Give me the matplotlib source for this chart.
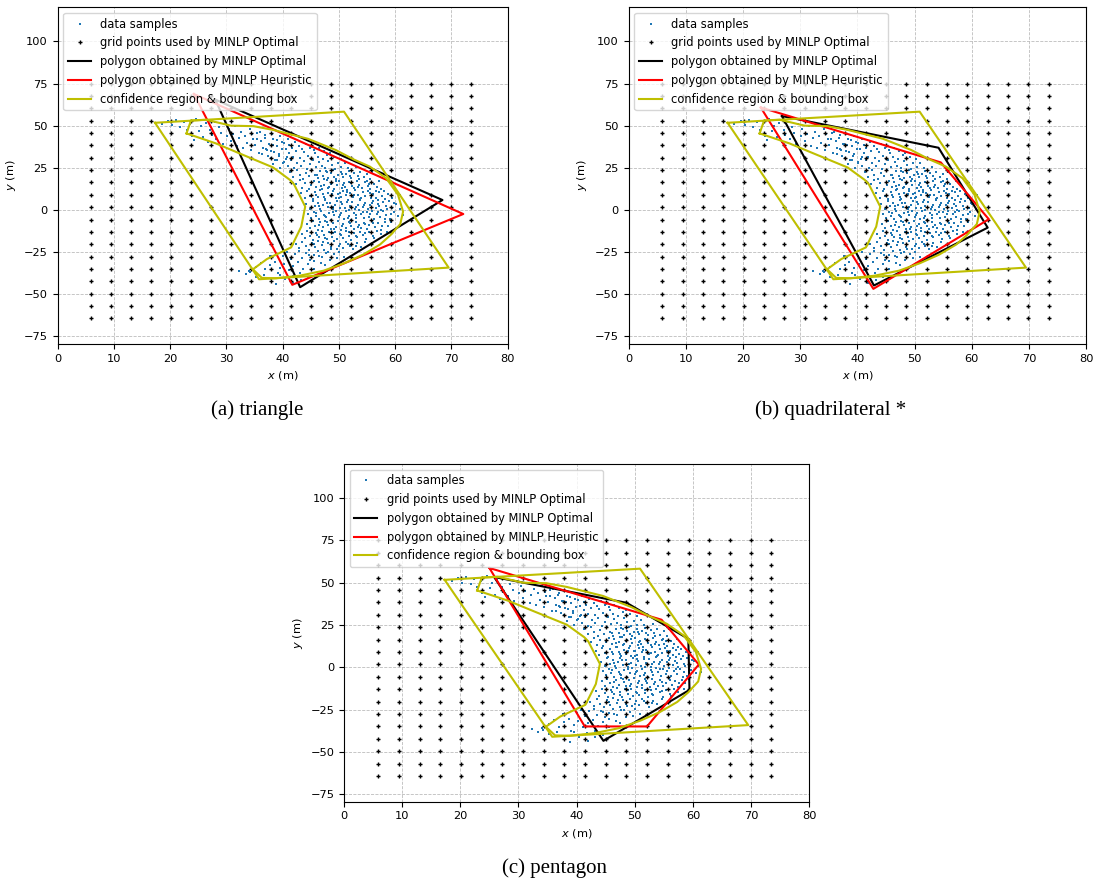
import numpy as np
import matplotlib
matplotlib.use('Agg')
import matplotlib.pyplot as plt
from typing import List, Tuple

# grid used by the MINLP solver (20 x 20)
grid_x = [5.87, 9.43, 12.99, 16.55, 20.11, 23.66, 27.22, 30.78, 34.34, 37.90,
          41.46, 45.01, 48.57, 52.13, 55.69, 59.25, 62.81, 66.36, 69.92, 73.48]
grid_y = [75.0, 67.67, 60.33, 53.0, 45.67, 38.33, 31.0, 23.67, 16.33, 9.0,
          1.67, -5.67, -13.0, -20.33, -27.67, -35.0, -42.33, -49.67, -57.0, -64.33]

# confidence region (crescent) and bounding box
conf_x = [22.9, 23.7, 26.4, 30.8, 34.8, 38.3, 44.5, 49.4, 52.6, 55.5, 58.4, 60.5, 61.4,
          60.9, 59.2, 57.3, 54.3, 51.0, 47.3, 43.0, 38.8, 36.3, 34.7, 37.2, 41.5, 43.3,
          44.0, 42.0, 41.3, 38.3, 33.0, 28.1, 22.9]
conf_y = [45.4, 53.1, 53.5, 50.0, 49.7, 47.5, 42.2, 35.6, 30.0, 25.7, 18.8, 9.0, -1.0,
          -8.4, -14.8, -20.5, -26.5, -31.5, -36.0, -39.0, -40.5, -40.3, -35.2, -29.1, -22.2, -9.9,
          2.0, 15.3, 17.8, 25.2, 32.6, 39.5, 45.4]
bbox_x = [17.3, 50.9, 69.5, 35.8, 17.3]
bbox_y = [51.7, 58.3, -34.2, -41.1, 51.7]

# polygons per case
tri_opt_x = [28.0, 68.4, 43.1]
tri_opt_y = [65.5, 5.9, -45.8]
tri_heu_x = [24.2, 72.1, 41.7]
tri_heu_y = [68.8, -2.4, -44.4]

quad_opt_x = [26.8, 54.2, 62.8, 42.9]
quad_opt_y = [55.7, 36.9, -10.5, -44.8]
quad_heu_x = [23.1, 54.6, 63.0, 42.8]
quad_heu_y = [60.8, 28.2, -5.5, -46.8]

pent_opt_x = [25.8, 48.6, 59.2, 59.4, 44.6]
pent_opt_y = [53.4, 38.1, 16.8, -13.4, -43.5]
pent_heu_x = [25.0, 54.6, 61.0, 52.1, 41.4]
pent_heu_y = [58.7, 28.1, 1.6, -35.0, -35.0]

captions = ['(a) triangle', '(b) quadrilateral *', '(c) pentagon']

# data samples
sample_pts = [
    # upper-left tail
    (18.5, 51.0), (19.6, 52.8), (20.3, 50.1), (21.0, 53.5), (21.8, 49.2), (22.4, 52.0), (22.9, 47.6),
    (23.5, 50.8), (23.8, 44.1), (24.2, 41.3), (24.6, 53.9), (25.1, 46.8), (25.5, 49.9), (25.9, 43.0),
    (26.3, 51.7), (26.8, 40.2), (27.1, 47.5), (27.4, 44.6), (27.9, 52.4), (28.2, 42.1), (28.6, 49.3),
    (29.0, 45.8), (29.3, 38.9), (29.7, 51.0), (30.1, 43.7), (30.4, 47.9), (30.8, 40.9), (31.2, 45.1),
    (31.5, 49.8), (31.9, 38.2), (32.2, 42.7), (32.6, 46.3), (33.0, 36.9), (33.3, 44.0), (33.7, 40.0),
    (34.1, 48.1), (34.4, 35.4), (34.8, 42.3), (35.1, 38.6), (35.5, 45.6), (35.8, 33.5), (36.2, 40.8),
    (36.5, 37.0), (36.9, 44.2), (37.3, 31.8), (37.6, 39.4), (38.0, 35.2), (38.3, 42.0), (38.7, 29.6),
    (39.0, 37.9), (39.4, 33.4), (39.8, 40.6), (40.1, 27.9), (40.5, 36.1), (40.8, 31.2), (41.2, 38.8),
    (34.6, 44.8), (35.4, 41.9), (36.0, 46.2), (36.8, 42.7), (37.5, 39.0), (38.1, 45.3), (38.9, 41.4),
    (39.5, 43.9), (40.2, 39.6), (40.9, 42.3), (41.6, 36.8), (42.2, 40.5), (42.9, 38.2), (43.5, 36.1),
    (44.2, 39.3), (44.8, 37.0), (45.6, 35.4), (46.4, 36.7), (47.3, 34.9), (48.4, 33.8), (49.2, 31.3),
    (50.3, 30.1), (37.0, 36.2), (38.2, 38.7),
    # y 30..36
    (36.4, 33.1), (37.2, 35.6), (37.9, 30.8), (38.5, 34.2), (39.3, 32.0), (39.9, 35.9), (40.6, 30.3),
    (41.2, 33.7), (41.9, 31.5), (42.4, 35.0), (43.1, 30.9), (43.8, 34.4), (44.5, 32.2), (45.0, 30.5),
    (45.7, 33.8), (46.3, 31.4), (47.1, 30.2), (47.9, 32.6),
    # y 24..30
    (38.3, 27.4), (39.0, 29.5), (39.6, 25.1), (40.2, 28.3), (40.9, 26.0), (41.5, 29.7), (42.0, 24.6),
    (42.6, 27.8), (43.2, 25.9), (43.7, 29.1), (44.3, 24.2), (44.9, 27.0), (45.4, 29.8), (45.9, 25.5),
    (46.5, 28.4), (47.0, 26.3), (47.6, 24.8), (48.1, 28.9), (48.7, 26.9), (49.3, 24.4), (49.8, 27.6),
    (50.4, 25.2), (51.0, 28.0), (51.6, 24.9),
    # y 18..24
    (41.3, 22.5), (41.9, 19.4), (42.5, 23.6), (43.0, 20.8), (43.6, 18.3), (44.1, 22.1), (44.7, 19.9),
    (45.2, 23.8), (45.8, 21.0), (46.2, 18.7), (46.7, 22.9), (47.2, 20.3), (47.7, 23.2), (48.1, 19.1),
    (48.6, 21.7), (49.0, 23.9), (49.5, 18.5), (49.9, 20.9), (50.4, 22.6), (50.8, 19.6), (51.3, 21.4),
    (51.8, 23.4), (52.2, 18.9), (52.7, 21.9), (53.3, 20.1), (53.8, 22.8), (54.4, 19.3), (55.0, 21.2),
    (55.6, 18.6), (47.4, 18.1),
    # y 12..18
    (42.4, 15.2), (43.0, 17.6), (43.5, 13.1), (44.0, 16.0), (44.6, 12.5), (45.1, 14.8), (45.5, 17.3),
    (46.0, 13.6), (46.4, 16.5), (46.9, 12.2), (47.3, 15.0), (47.8, 17.8), (48.2, 13.9), (48.7, 16.2),
    (49.1, 12.7), (49.6, 14.6), (50.0, 17.1), (50.5, 13.3), (50.9, 15.7), (51.4, 12.1), (51.8, 16.8),
    (52.3, 14.2), (52.7, 12.9), (53.2, 17.4), (53.6, 15.1), (54.1, 13.0), (54.6, 16.3), (55.1, 14.0),
    (55.6, 12.4), (56.2, 15.6), (56.8, 13.5), (57.4, 12.2), (48.5, 15.3), (51.1, 13.8),
    # y 6..12
    (43.3, 9.8), (43.9, 7.1), (44.4, 11.5), (44.9, 8.4), (45.4, 6.3), (45.8, 10.6), (46.3, 7.9),
    (46.7, 11.8), (47.2, 9.2), (47.6, 6.6), (48.1, 10.3), (48.5, 8.0), (49.0, 11.1), (49.4, 6.9),
    (49.8, 9.5), (50.3, 7.5), (50.7, 11.4), (51.2, 8.8), (51.6, 6.2), (52.0, 10.1), (52.5, 7.7),
    (52.9, 11.7), (53.4, 9.0), (53.8, 6.5), (54.3, 10.8), (54.7, 8.3), (55.2, 11.2), (55.7, 6.8),
    (56.1, 9.6), (56.6, 7.3), (57.1, 10.5), (57.6, 8.1), (58.2, 6.4), (58.8, 9.3), (59.4, 7.0),
    (50.1, 9.9),
    # y 0..6
    (44.2, 3.4), (44.8, 0.8), (45.3, 5.2), (45.7, 2.1), (46.2, 4.4), (46.6, 0.5), (47.1, 3.0),
    (47.5, 5.7), (48.0, 1.6), (48.4, 4.1), (48.9, 0.3), (49.3, 2.7), (49.7, 5.4), (50.2, 1.2),
    (50.6, 3.8), (51.1, 0.9), (51.5, 5.0), (51.9, 2.4), (52.4, 4.6), (52.8, 0.4), (53.3, 3.1),
    (53.7, 5.8), (54.2, 1.8), (54.6, 4.3), (55.1, 0.7), (55.5, 2.9), (56.0, 5.3), (56.5, 1.4),
    (56.9, 3.7), (57.4, 0.2), (57.9, 4.8), (58.4, 2.2), (58.9, 5.6), (59.5, 1.0), (60.1, 3.5),
    (60.8, 0.6),
    # y -6..0
    (44.5, -2.3), (45.0, -4.8), (45.5, -1.1), (45.9, -3.6), (46.4, -5.5), (46.8, -0.7), (47.3, -2.9),
    (47.7, -4.4), (48.2, -1.6), (48.6, -5.9), (49.1, -3.2), (49.5, -0.4), (50.0, -4.1), (50.4, -2.0),
    (50.9, -5.2), (51.3, -0.9), (51.8, -3.4), (52.2, -5.7), (52.7, -1.8), (53.1, -4.6), (53.6, -0.2),
    (54.0, -2.6), (54.5, -5.0), (54.9, -1.3), (55.4, -3.9), (55.8, -0.6), (56.3, -5.4), (56.8, -2.1),
    (57.3, -4.2), (57.8, -0.9), (58.4, -3.0), (59.0, -5.1), (59.7, -1.5), (60.5, -3.3),
    # y -12..-6
    (44.3, -8.1), (44.8, -10.9), (45.3, -6.8), (45.8, -9.6), (46.2, -11.7), (46.7, -7.4), (47.2, -10.2),
    (47.6, -6.3), (48.1, -8.9), (48.5, -11.3), (49.0, -7.7), (49.4, -9.9), (49.9, -6.5), (50.3, -11.8),
    (50.8, -8.4), (51.2, -10.6), (51.7, -7.0), (52.1, -9.3), (52.6, -11.5), (53.0, -6.9), (53.5, -8.7),
    (54.0, -10.8), (54.4, -7.6), (54.9, -11.1), (55.4, -9.1), (55.9, -6.6), (56.4, -10.4), (56.9, -8.0),
    (57.5, -11.6), (58.1, -7.3), (58.7, -9.5), (59.3, -6.9),
    # y -18..-12
    (43.4, -14.2), (43.9, -16.9), (44.4, -12.6), (44.9, -15.5), (45.4, -17.7), (45.9, -13.4),
    (46.4, -16.1), (46.9, -12.3), (47.4, -14.8), (47.8, -17.3), (48.3, -13.0), (48.8, -15.9),
    (49.3, -12.8), (49.7, -17.0), (50.2, -14.4), (50.7, -16.6), (51.2, -12.5), (51.7, -15.2),
    (52.2, -17.8), (52.7, -13.7), (53.2, -16.3), (53.7, -12.9), (54.3, -14.9), (54.8, -17.4),
    (55.4, -13.2), (56.0, -15.7), (56.7, -12.7), (57.4, -14.5),
    # y -24..-18
    (42.3, -20.4), (42.9, -22.8), (43.5, -18.9), (44.1, -21.6), (44.7, -23.5), (45.2, -19.6),
    (45.8, -22.2), (46.3, -18.4), (46.9, -20.9), (47.4, -23.7), (48.0, -19.3), (48.5, -21.8),
    (49.1, -18.6), (49.6, -23.1), (50.2, -20.2), (50.7, -22.5), (51.3, -18.8), (51.9, -21.3),
    (52.5, -23.4), (53.2, -19.7), (53.9, -22.0), (54.6, -19.0),
    # y -30..-24
    (40.1, -27.2), (40.8, -25.0), (41.5, -28.9), (42.2, -26.1), (42.9, -24.6), (43.5, -28.3),
    (44.2, -25.7), (44.9, -29.4), (45.6, -26.8), (46.3, -24.4), (47.0, -28.0), (47.7, -25.5),
    (48.4, -29.6), (49.2, -26.4), (50.0, -24.9), (50.9, -27.7),
    # lower tail
    (35.2, -33.8), (36.1, -31.2), (36.9, -35.1), (37.8, -32.4), (38.6, -30.6), (39.5, -34.3),
    (40.3, -31.9), (41.1, -35.6), (41.9, -33.0), (42.8, -30.9), (43.6, -34.8), (44.5, -32.1),
    (45.5, -35.3), (46.8, -31.5),
    (32.3, -36.4), (33.4, -38.1), (34.2, -37.0), (35.3, -39.6), (36.6, -38.4), (37.9, -40.7),
    (39.1, -37.5), (40.4, -41.2), (41.8, -38.9), (43.2, -41.5),
    (41.9, -43.4), (38.8, -44.0), (44.5, -39.8), (37.7, -27.5), (34.0, -36.1), (43.1, -37.6),
    (39.6, -38.5),
    # scattered edge points
    (60.9, 8.9), (61.3, -2.7), (59.9, 13.1), (58.5, -12.9), (57.2, 16.9), (55.9, 22.6), (53.1, 25.4),
    # denser core
    (46.1, 20.5), (47.9, 22.4), (49.2, 19.8), (50.6, 21.1), (52.0, 20.0), (53.5, 18.2), (54.9, 16.9),
    (46.8, 14.1), (48.0, 12.9), (49.4, 16.9), (50.7, 14.9), (52.1, 16.0), (53.4, 13.8), (55.3, 15.4),
    (56.5, 11.1), (46.0, 9.1), (47.4, 7.6), (48.8, 9.6), (50.0, 6.8), (51.4, 10.4), (52.7, 8.6),
    (54.0, 7.0), (55.5, 9.8), (57.0, 6.1), (58.0, 11.0), (46.5, 2.6), (47.8, 4.0), (49.0, 1.9),
    (50.4, 4.9), (51.8, 0.1), (53.0, 2.0), (54.4, 3.2), (55.8, 4.1), (57.2, 2.6), (58.6, 0.8),
    (59.8, 4.2), (46.0, -1.9), (47.5, -3.7), (48.9, -1.0), (50.2, -2.8), (51.6, -4.5), (53.0, -3.0),
    (54.3, -1.1), (55.6, -2.4), (57.0, -1.2), (58.2, -5.6), (59.3, -2.6), (46.5, -9.0), (47.9, -7.2),
    (49.2, -11.0), (50.5, -9.3), (51.9, -7.9), (53.3, -10.1), (54.7, -8.6), (56.1, -7.7), (57.6, -9.4),
    (46.1, -14.6), (47.5, -16.4), (48.9, -13.6), (50.4, -15.1), (51.8, -13.3), (53.0, -15.6),
    (54.6, -13.8), (56.2, -16.8), (45.5, -20.3), (47.1, -19.2), (48.6, -22.9), (50.0, -21.6),
    (51.6, -19.9), (53.0, -21.2), (44.6, -26.6), (46.5, -27.4), (48.1, -25.2), (49.7, -28.6),
    (45.6, -30.5), (47.5, -32.8),
]

FONT = 8.2


def close(xs: List[float], ys: List[float]) -> Tuple[List[float], List[float]]:
    return list(xs) + [xs[0]], list(ys) + [ys[0]]


def draw_panel(ax, opt_x, opt_y, heu_x, heu_y):
    samples = np.array(sample_pts)
    gx, gy = np.meshgrid(grid_x, grid_y)

    ax.plot(samples[:, 0], samples[:, 1], 's', color='tab:blue', ms=1.5, mew=0,
            label='data samples')
    ax.plot(gx.ravel(), gy.ravel(), '+', color='k', ms=3.4, mew=1.0,
            label='grid points used by MINLP Optimal')
    ox, oy = close(opt_x, opt_y)
    hx, hy = close(heu_x, heu_y)
    ax.plot(ox, oy, color='k', lw=1.5, label='polygon obtained by MINLP Optimal')
    ax.plot(hx, hy, color='r', lw=1.5, label='polygon obtained by MINLP Heuristic')
    ax.plot(conf_x, conf_y, color='y', lw=1.5, label='confidence region & bounding box')
    ax.plot(bbox_x, bbox_y, color='y', lw=1.5)

    ax.set_xlim(0, 80)
    ax.set_ylim(-79.5, 120.2)
    ax.set_xticks(range(0, 81, 10))
    ax.set_yticks(range(-75, 101, 25))
    ax.tick_params(labelsize=FONT)
    ax.set_xlabel('$x$ (m)', fontsize=FONT)
    ax.set_ylabel('$y$ (m)', fontsize=FONT)
    ax.grid(True, linestyle='--', linewidth=0.6, color='#bdbdbd')
    ax.set_axisbelow(True)
    ax.legend(loc='upper left', fontsize=8.3, handlelength=2.0)


def main():
    W, H = 1102, 880
    fig = plt.figure(figsize=(W / 100, H / 100), dpi=100)

    rects = [
        (57.7, 7.3, 450.0, 336.7),
        (628.7, 7.3, 457.3, 336.7),
        (344.0, 464.0, 465.3, 337.7),
    ]
    polys = [
        (tri_opt_x, tri_opt_y, tri_heu_x, tri_heu_y),
        (quad_opt_x, quad_opt_y, quad_heu_x, quad_heu_y),
        (pent_opt_x, pent_opt_y, pent_heu_x, pent_heu_y),
    ]
    caption_pos = [(256.7, 410.0), (830.8, 410.0), (555.0, 868.0)]

    for (l, t, w, h), poly, cap, (cx, cy) in zip(rects, polys, captions, caption_pos):
        ax = fig.add_axes([l / W, 1 - (t + h) / H, w / W, h / H])
        draw_panel(ax, *poly)
        fig.text(cx / W, 1 - cy / H, cap, ha='center', va='center',
                 family='Liberation Serif', fontsize=15)

    fig.savefig('out.png', dpi=100)


if __name__ == '__main__':
    main()
